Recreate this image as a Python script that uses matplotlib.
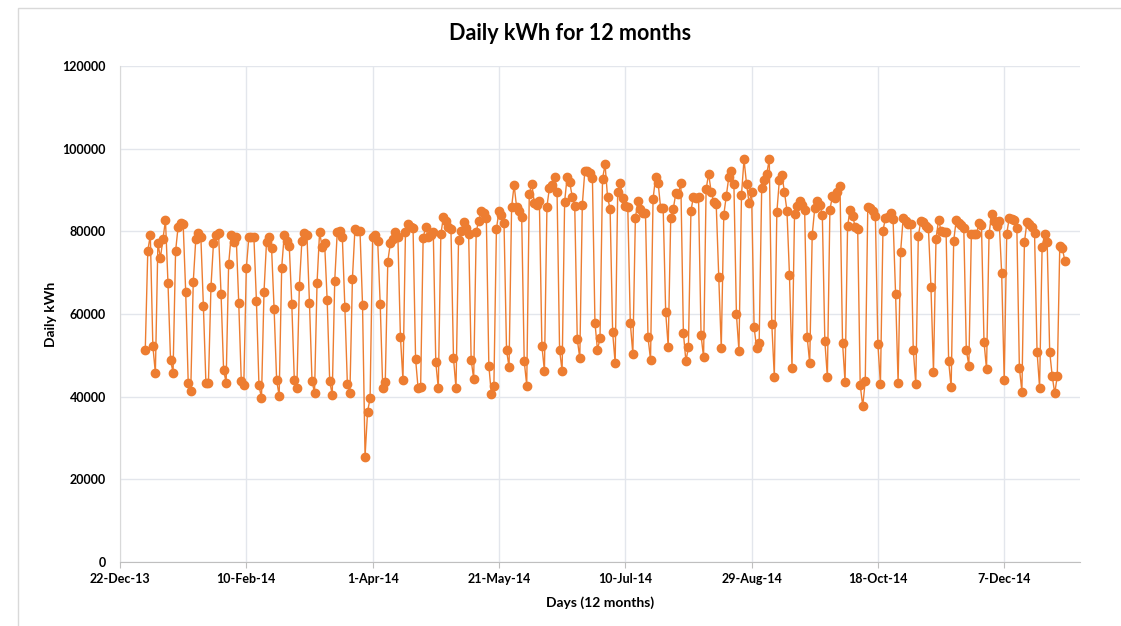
import matplotlib
matplotlib.use("Agg")
import matplotlib.pyplot as plt
import matplotlib.dates as mdates
import pandas as pd
from matplotlib.patches import Rectangle

# daily consumption (thousand kWh), 1-Jan-2014 .. 31-Dec-2014
jan = [51.3, 75.3, 79.1, 52.3, 45.7, 77.1, 73.6, 78.1, 82.7, 67.4, 48.9, 45.8, 75.2, 81.1, 82.1, 81.8,
       65.4, 43.4, 41.4, 67.8, 78.1, 79.7, 78.7, 62.0, 43.4, 43.2, 66.5, 77.1, 79.1, 79.7, 64.8]
feb = [46.5, 43.4, 72.0, 79.0, 77.4, 78.6, 62.7, 43.9, 42.8, 71.1, 78.6, 78.6, 78.6, 63.2, 42.8, 39.6,
       65.3, 77.5, 78.7, 75.9, 61.2, 44.0, 40.2, 71.2, 79.1, 77.7, 76.5, 62.4]
mar = [44.0, 42.0, 66.8, 77.7, 79.5, 79.1, 62.6, 43.9, 40.8, 67.6, 79.8, 76.3, 77.1, 63.4, 43.8, 40.4,
       68.1, 79.9, 80.2, 78.7, 61.8, 43.1, 40.8, 68.5, 80.6, 80.2, 80.1, 62.2, 25.5, 36.4, 39.6]
apr = [78.7, 79.0, 77.7, 62.4, 42.0, 43.5, 72.7, 77.1, 78.1, 79.9, 78.6, 54.5, 44.0, 79.9, 81.7, 81.0,
       80.7, 49.1, 42.0, 42.4, 78.5, 81.0, 78.7, 79.0, 79.8, 48.3, 42.0, 79.3, 83.4, 82.5]
may = [81.1, 80.6, 49.4, 42.0, 77.9, 80.2, 82.3, 80.7, 79.4, 48.9, 44.3, 79.9, 82.6, 84.8, 84.5, 83.3,
       47.5, 40.6, 42.7, 80.6, 84.8, 84.0, 82.1, 51.3, 47.1, 85.8, 91.2, 85.8, 84.8, 83.4, 48.6]
jun = [42.7, 89.0, 91.5, 86.9, 86.4, 87.4, 52.3, 46.2, 86.0, 90.6, 91.1, 93.2, 89.5, 51.3, 46.2, 87.2,
       93.2, 91.9, 88.4, 86.1, 53.9, 49.3, 86.4, 94.7, 94.7, 94.0, 92.8, 57.9, 51.3, 54.1]
jul = [92.7, 96.2, 88.2, 85.4, 55.6, 48.1, 89.5, 91.8, 88.1, 86.2, 85.8, 57.8, 50.3, 83.2, 87.3, 85.4,
       84.4, 84.4, 54.4, 48.9, 87.8, 93.1, 91.8, 85.6, 85.7, 60.4, 52.1, 83.2, 85.4, 89.2, 89.0]
aug = [91.8, 55.5, 48.6, 51.9, 85.0, 88.4, 88.0, 88.4, 54.9, 49.5, 90.2, 93.9, 89.6, 87.2, 86.5, 69.0,
       51.7, 84.0, 88.6, 93.2, 94.6, 91.5, 59.9, 51.1, 88.8, 97.4, 91.5, 86.9, 89.4, 56.8, 51.7]
sep = [52.9, 90.4, 92.4, 93.8, 97.5, 57.6, 44.8, 84.6, 92.4, 93.6, 89.6, 85.0, 69.4, 47.0, 84.1, 86.2,
       87.3, 86.4, 85.2, 54.5, 48.1, 79.1, 85.6, 87.3, 86.4, 84.0, 53.5, 44.7, 85.2, 88.6]
oct_ = [88.1, 89.6, 91.0, 53.1, 43.5, 81.3, 85.2, 83.7, 81.1, 80.6, 42.8, 37.7, 43.9, 85.8, 85.6, 84.9,
        83.8, 52.7, 43.1, 80.2, 83.2, 83.4, 84.4, 83.0, 64.8, 43.4, 75.1, 83.2, 82.6, 81.8, 81.7]
nov = [51.3, 43.0, 78.9, 82.5, 82.3, 81.4, 80.7, 66.6, 46.0, 78.1, 82.7, 80.2, 79.8, 79.8, 48.6, 42.3,
       77.7, 82.7, 81.9, 81.5, 80.9, 51.3, 47.5, 79.3, 79.3, 79.4, 81.9, 81.5, 53.3, 46.6]
dec = [79.3, 84.2, 82.5, 81.4, 82.5, 69.8, 44.0, 79.4, 83.3, 82.9, 82.7, 80.9, 47.0, 41.2, 77.4, 82.2,
       81.7, 81.1, 79.7, 50.9, 42.2, 76.1, 79.3, 77.5, 50.9, 45.0, 40.8, 45.0, 76.5, 75.9, 72.9]

daily_kwh = [v * 1000 for v in jan + feb + mar + apr + may + jun + jul + aug + sep + oct_ + nov + dec]
days = pd.date_range("2014-01-01", periods=len(daily_kwh), freq="D")

tick_dates = pd.date_range("2013-12-22", periods=8, freq="50D")
y_ticks = [0, 20000, 40000, 60000, 80000, 100000, 120000]

plt.rcParams["font.family"] = ["Lato", "DejaVu Sans"]

fig = plt.figure(figsize=(11.21, 6.26), dpi=100)
# chart area frame, as in the spreadsheet export
fig.patches.append(Rectangle((18 / 1121, -0.1), 1.2, 1 - 8 / 626 + 0.1, transform=fig.transFigure,
                             fill=False, edgecolor="#d9d9d9", linewidth=1))
ax = fig.add_axes([120 / 1121, 1 - 562 / 626, 960 / 1121, 496 / 626])

ax.plot(days, daily_kwh, color="#ED7D31", linewidth=1.0, marker="o", markersize=6,
        markerfacecolor="#ED7D31", markeredgecolor="#ED7D31", zorder=3)

ax.set_ylim(0, 120000)
ax.set_yticks(y_ticks)
ax.set_xlim(pd.Timestamp("2013-12-22"), pd.Timestamp("2013-12-22") + pd.Timedelta(days=380))
ax.set_xticks(tick_dates)
ax.xaxis.set_major_formatter(mdates.DateFormatter("%-d-%b-%y"))

ax.grid(True, color="#e3e6ec", linewidth=1)
ax.set_axisbelow(True)
for side in ["top", "right"]:
    ax.spines[side].set_visible(False)
ax.spines["left"].set_color("#d9d9d9")
ax.spines["bottom"].set_color("#bfbfbf")
ax.tick_params(axis="y", length=0, pad=10, labelsize=9)
ax.tick_params(axis="x", length=4, color="#bfbfbf", pad=4, labelsize=9)
for lbl in ax.get_xticklabels() + ax.get_yticklabels():
    lbl.set_fontweight("bold")
    lbl.set_color("#000000")

fig.text(570 / 1121, 1 - 34 / 626, "Daily kWh for 12 months", fontsize=15.5, fontweight="bold",
         ha="center", va="center")
ax.set_xlabel("Days (12 months)", fontsize=10, fontweight="bold", labelpad=8)
ax.set_ylabel("Daily kWh", fontsize=10, fontweight="bold", labelpad=4)

fig.savefig("out.png", dpi=100, facecolor="white")
